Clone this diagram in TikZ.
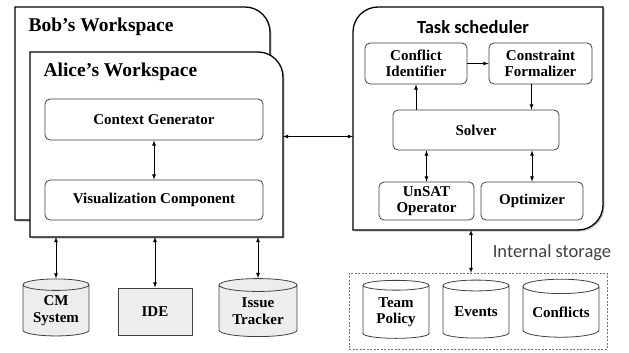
\documentclass[tikz,border=0pt]{standalone}
\usepackage{fontspec}
\setmainfont{Liberation Serif}
\newfontfamily\calibri{Carlito}
\usetikzlibrary{shapes.geometric,arrows,shadows}
\usetikzlibrary{positioning,calc}

\begin{document}
\begin{tikzpicture}
[x=1pt,y=-1pt,>=latex,
   wsp/.style={draw,line width=1.3pt,fill=white,
     drop shadow={shadow xshift=1.5pt,shadow yshift=-1.5pt,opacity=.45}},
   area/.style={inner sep=0pt,outer sep=0pt},
   part/.style={draw=black!75,rounded corners=5pt,line width=.8pt,fill=white,
     align=center,inner sep=0pt,font=\bfseries\fontsize{15}{16.5}\selectfont},
   db/.style={cylinder,shape border rotate=90,aspect=.25,draw=black!75,
     line width=.8pt,align=center,inner sep=0pt,
     font=\bfseries\fontsize{15}{16.5}\selectfont},
   link/.style={<->,line width=.8pt},
   flow/.style={->,line width=.8pt}]
\useasboundingbox (0,0) rectangle (629,353);

% workspaces
\path[wsp] (15,220) -- (15,7) -- (245,7) arc[start angle=90,end angle=0,radius=25pt] -- (270,220) -- cycle;
\node[anchor=west,font=\bfseries\fontsize{19.5}{22}\selectfont] (bob) at (25,27) {Bob’s Workspace};
\node[area,minimum width=253pt,minimum height=185pt] (alice) at (156.5,144.5) {};
\path[wsp] (alice.south west) -- (alice.north west) -- ([xshift=-25pt]alice.north east)
    arc[start angle=90,end angle=0,radius=25pt] -- (alice.south east) -- cycle;
\node[anchor=west,font=\bfseries\fontsize{19.5}{22}\selectfont] (alicet) at (40,72) {Alice’s Workspace};
\node[part,minimum width=218pt,minimum height=41pt] (ctx) at (154,119.5) {Context Generator};
\node[part,minimum width=218pt,minimum height=40pt] (vis) at (154,200) {Visualization Component};
\draw[link] (ctx) -- (vis);

% scheduler
\node[area,minimum width=250pt,minimum height=223pt] (task) at (478,118.5) {};
\path[wsp] (task.south west) -- ([yshift=-25pt]task.north west)
    arc[start angle=180,end angle=90,radius=25pt] -- (task.north east)
    -- ([yshift=25pt]task.south east) arc[start angle=0,end angle=-90,radius=25pt] -- cycle;
\node[font=\calibri\bfseries\fontsize{18.5}{22}\selectfont] (taskt) at (473,27) {Task scheduler};
\node[part,minimum width=102pt,minimum height=41pt] (cid) at (416,63.5) {Conflict\\Identifier};
\node[part,minimum width=103pt,minimum height=41pt] (cfm) at (540.5,63.5) {Constraint\\Formalizer};
\node[part,minimum width=166pt,minimum height=40pt] (solver) at (476,130) {Solver};
\node[part,minimum width=95pt,minimum height=38pt] (unsat) at (426.5,201) {UnSAT\\Operator};
\node[part,minimum width=102pt,minimum height=38pt] (opt) at (532,201) {Optimizer};
\draw[flow] (cid.east) -- (cfm.west);
\draw[flow] (solver.north -| cid.south) -- (cid.south);
\draw[flow] ([xshift=-9pt]cfm.south) -- ([xshift=-9pt]cfm.south |- solver.north);
\draw[link] (unsat.north |- solver.south) -- (unsat.north);
\draw[link] (opt.north |- solver.south) -- (opt.north);

\draw[link] ([yshift=8pt]alice.east) -- ([yshift=8pt]alice.east -| task.west);

% tools
\node[db,fill=black!7,minimum width=66pt,minimum height=57pt] (cm) at (56,310.5) {CM\\System};
\node[draw=black!75,line width=.8pt,fill=black!7,minimum width=74pt,minimum height=47pt,
   font=\bfseries\fontsize{15}{16.5}\selectfont] (ide) at (155,311.5) {IDE};
\node[db,fill=black!7,minimum width=78pt,minimum height=58pt] (issue) at (258,311) {Issue\\Tracker};
\draw[link] (cm.north |- alice.south) -- (cm.north);
\draw[link] (ide.north |- alice.south) -- (ide.north);
\draw[link] (issue.north |- alice.south) -- (issue.north);

% storage
\node[area,draw=black!55,dash pattern=on 2pt off 1.5pt,line width=.8pt,
   minimum width=258pt,minimum height=76pt] (store) at (478,311) {};
\node[font=\calibri\fontsize{18.5}{20}\selectfont,text=black!75] (storet) at (552,253) {Internal storage};
\node[db,fill=white,minimum width=66pt,minimum height=58pt] (policy) at (396,312) {Team\\Policy};
\node[db,fill=white,minimum width=66pt,minimum height=58pt] (events) at (476,312) {Events};
\node[db,fill=white,minimum width=76pt,minimum height=58pt] (confl) at (561,312) {Conflicts};
\draw[link] ([xshift=-7pt]task.south) -- ([xshift=-7pt]store.north);
\end{tikzpicture}
\end{document}
